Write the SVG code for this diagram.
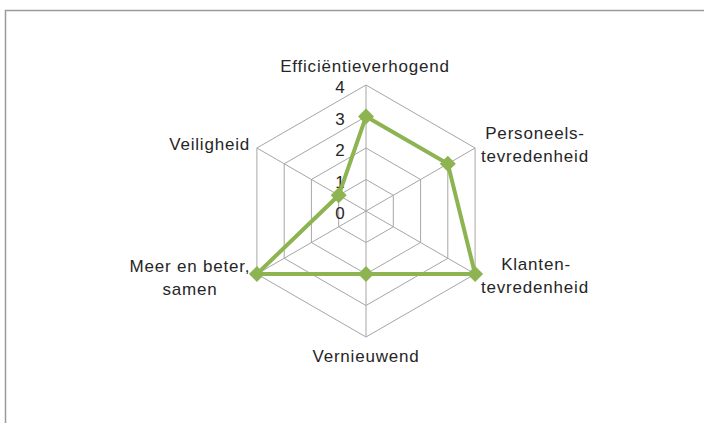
<svg xmlns="http://www.w3.org/2000/svg" width="704" height="423" viewBox="0 0 704 423">
<style>
.grid{fill:none;stroke:#a6a6a6;stroke-width:1}
.lbl{font-family:"Liberation Sans",Arial,sans-serif;font-size:17px;letter-spacing:0.8px;fill:#262626}
.num{font-family:"Liberation Sans",Arial,sans-serif;font-size:17px;fill:#262626}
.series{fill:none;stroke:#8db451;stroke-width:4;stroke-linejoin:miter}
.mk{fill:#8db451}
</style>
<defs>
<path id="dia" d="M0,-8 L8,0 L0,8 L-8,0 Z"/>
</defs>
<rect x="0" y="0" width="704" height="423" fill="#fff"/>
<path d="M5.5,423 V10.5 H704" fill="none" stroke="#9a9a9a" stroke-width="1.5"/>
<g id="grid">
<polygon class="grid" points="366,179.5 393.3,195.3 393.3,226.8 366,242.5 338.7,226.8 338.7,195.3"/>
<polygon class="grid" points="366,148 420.6,179.5 420.6,242.5 366,274 311.4,242.5 311.4,179.5"/>
<polygon class="grid" points="366,116.5 447.8,163.8 447.8,258.3 366,305.5 284.2,258.3 284.2,163.8"/>
<polygon class="grid" points="366,85 475.1,148 475.1,274 366,337 256.9,274 256.9,148"/>
<path class="grid" d="M366,211 L366,85 M366,211 L475.1,148 M366,211 L475.1,274 M366,211 L366,337 M366,211 L256.9,274 M366,211 L256.9,148"/>
</g>
<g id="scale">
<text class="num" x="340" y="93" text-anchor="middle">4</text>
<text class="num" x="340" y="124.5" text-anchor="middle">3</text>
<text class="num" x="340" y="156" text-anchor="middle">2</text>
<text class="num" x="340" y="187.5" text-anchor="middle">1</text>
<text class="num" x="340" y="219" text-anchor="middle">0</text>
</g>
<g id="connectors">
<polygon class="series" points="366,116.5 447.8,163.8 475.1,274 366,274 256.9,274 338.7,195.3"/>
</g>
<g id="node-efficientieverhogend">
<use href="#dia" class="mk" x="366" y="116.5"/>
<text class="lbl" x="365" y="72" text-anchor="middle">Efficiëntieverhogend</text>
</g>
<g id="node-personeelstevredenheid">
<use href="#dia" class="mk" x="447.8" y="163.8"/>
<text class="lbl" x="535" y="139" text-anchor="middle">Personeels-</text>
<text class="lbl" x="535" y="162" text-anchor="middle">tevredenheid</text>
</g>
<g id="node-klantentevredenheid">
<use href="#dia" class="mk" x="475.1" y="274"/>
<text class="lbl" x="536" y="270" text-anchor="middle">Klanten-</text>
<text class="lbl" x="535" y="293" text-anchor="middle">tevredenheid</text>
</g>
<g id="node-vernieuwend">
<use href="#dia" class="mk" x="366" y="274"/>
<text class="lbl" x="366" y="362" text-anchor="middle">Vernieuwend</text>
</g>
<g id="node-meer-en-beter">
<use href="#dia" class="mk" x="256.9" y="274"/>
<text class="lbl" x="190" y="272" text-anchor="middle">Meer en beter,</text>
<text class="lbl" x="190" y="295" text-anchor="middle">samen</text>
</g>
<g id="node-veiligheid">
<use href="#dia" class="mk" x="338.7" y="195.3"/>
<text class="lbl" x="250" y="150" text-anchor="end">Veiligheid</text>
</g>
</svg>
